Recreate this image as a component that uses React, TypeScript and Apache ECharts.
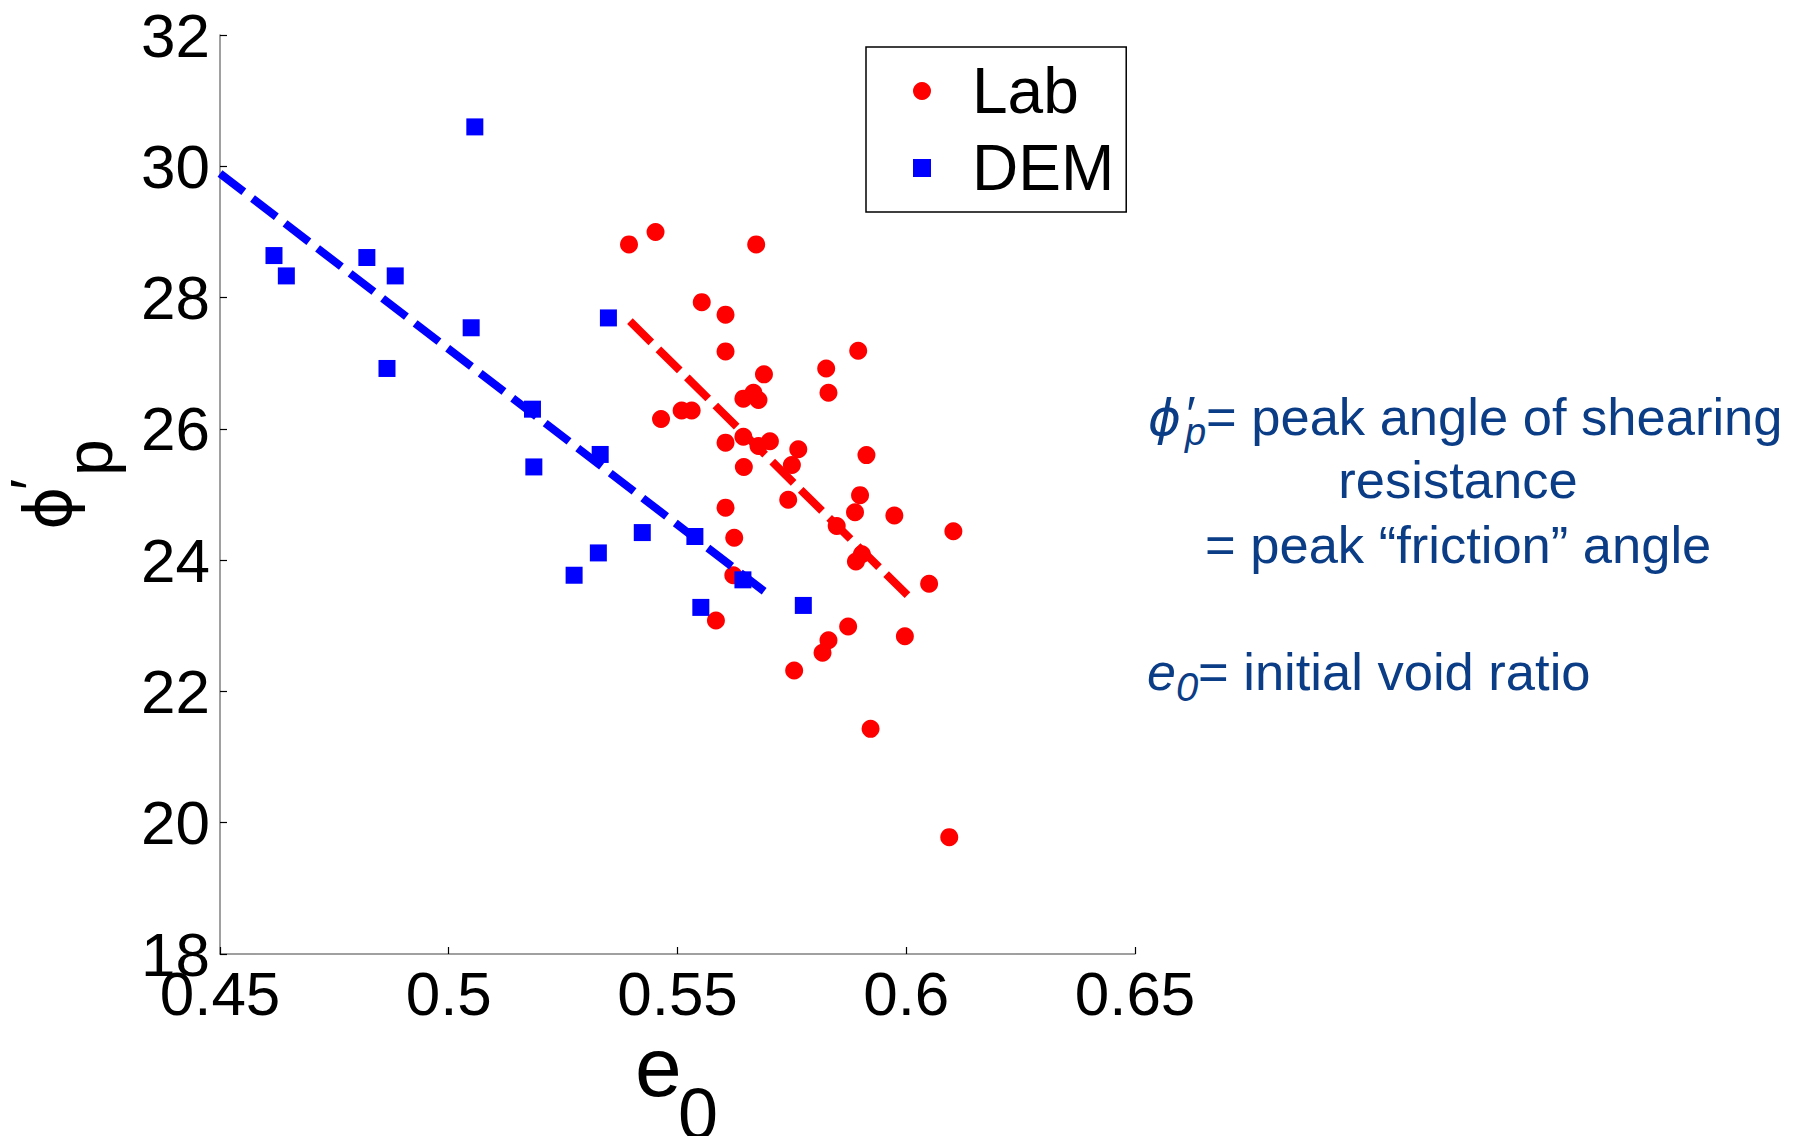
import React, { useEffect, useRef } from "react";
import * as echarts from "echarts";

// ---- data ----
const labE0 = [
  0.5394, 0.5452, 0.5672, 0.5553, 0.5605, 0.5605, 0.5895, 0.5825, 0.583, 0.5689,
  0.5644, 0.5666, 0.5677, 0.5464, 0.5509, 0.5531, 0.5605, 0.5644, 0.5677, 0.5702,
  0.5764, 0.575, 0.5913, 0.5645, 0.5742, 0.5899, 0.5888, 0.5974, 0.5605, 0.5624,
  0.5848, 0.6103, 0.589, 0.5903, 0.605, 0.5622, 0.5584, 0.5873, 0.583, 0.5817,
  0.5755, 0.5997, 0.5922, 0.6094,
];
const labPhi = [
  28.81, 29.0, 28.81, 27.93, 27.74, 27.18, 27.19, 26.92, 26.55, 26.83,
  26.46, 26.55, 26.44, 26.15, 26.28, 26.28, 25.79, 25.88, 25.74, 25.81,
  25.69, 25.45, 25.6, 25.42, 24.92, 24.99, 24.73, 24.68, 24.8, 24.34,
  24.52, 24.44, 23.98, 24.09, 23.64, 23.77, 23.08, 22.99, 22.78, 22.59,
  22.32, 22.84, 21.43, 19.78,
];
const demE0 = [
  0.4618, 0.4645, 0.4821, 0.4883, 0.4865, 0.5057, 0.5049, 0.5349, 0.5183,
  0.5186, 0.5331, 0.5423, 0.5327, 0.5274, 0.5538, 0.5643, 0.5551, 0.5775,
];
const demPhi = [
  28.64, 28.33, 28.61, 28.33, 26.92, 30.6, 27.54, 27.69, 26.3,
  25.42, 25.61, 24.42, 24.11, 23.77, 24.36, 23.7, 23.28, 23.31,
];
const labFitE0 = [0.5396, 0.6005];
const labFitPhi = [27.64, 23.45];
const demFitE0 = [0.45, 0.5698];
const demFitPhi = [29.89, 23.48];

const xMin = 0.45;
const xMax = 0.65;
const xStep = 0.05;
const yMin = 18;
const yMax = 32;
const yStep = 2;

const seriesNames = ["Lab", "DEM"];

const FONT = "'Liberation Sans', Arial, Helvetica, 'DejaVu Sans', sans-serif";
const PHI_FONT = "'DejaVu Sans', 'Liberation Sans', sans-serif";
const NOTE_COLOR = "#0b3d87";

const zip = (a: number[], b: number[]) => a.map((v, i) => [v, b[i]]);

function txt(
  text: string,
  x: number,
  baseline: number,
  size: number,
  opts: { italic?: boolean; color?: string; align?: string; family?: string } = {}
) {
  const align = opts.align || "left";
  return {
    type: "text",
    x,
    y: baseline - 0.35 * size,
    silent: true,
    style: {
      text,
      fontSize: size,
      fontFamily: opts.family || FONT,
      fontStyle: opts.italic ? "italic" : "normal",
      fill: opts.color || "#000",
      align,
      verticalAlign: "middle",
      textAlign: align,
      textVerticalAlign: "middle",
    },
  };
}

function rotTxt(text: string, centerX: number, startY: number, size: number, family?: string) {
  return {
    type: "text",
    x: centerX,
    y: startY,
    rotation: Math.PI / 2,
    silent: true,
    style: {
      text,
      fontSize: size,
      fontFamily: family || FONT,
      fill: "#000",
      align: "left",
      verticalAlign: "middle",
      textAlign: "left",
      textVerticalAlign: "middle",
    },
  };
}

export default function App() {
  const ref = useRef<HTMLDivElement>(null);

  useEffect(() => {
    document.body.style.margin = "0";
    if (!ref.current) return;
    const chart = echarts.init(ref.current, undefined, { renderer: "svg" });
    chart.setOption({
      animation: false,
      backgroundColor: "#ffffff",
      textStyle: { fontFamily: FONT },
      grid: { left: 220, top: 35, right: 667, bottom: 182, containLabel: false },
      xAxis: {
        type: "value",
        min: xMin,
        max: xMax,
        interval: xStep,
        axisLine: { show: true, onZero: false, lineStyle: { color: "#808080", width: 1.5 } },
        axisTick: { show: true, inside: true, length: 7, lineStyle: { color: "#000", width: 1.2 } },
        axisLabel: {
          fontSize: 62,
          color: "#000",
          margin: 8,
          fontFamily: FONT,
          formatter: (v: number) => String(parseFloat(v.toFixed(2))),
        },
        splitLine: { show: false },
      },
      yAxis: {
        type: "value",
        min: yMin,
        max: yMax,
        interval: yStep,
        axisLine: { show: true, onZero: false, lineStyle: { color: "#808080", width: 1.5 } },
        axisTick: { show: true, inside: true, length: 7, lineStyle: { color: "#000", width: 1.2 } },
        axisLabel: { fontSize: 62, color: "#000", margin: 10, fontFamily: FONT },
        splitLine: { show: false },
      },
      legend: {
        data: seriesNames,
        orient: "vertical",
        left: 866,
        top: 47,
        padding: [12, 12, 12, 47],
        itemWidth: 18,
        itemHeight: 18,
        itemGap: 13,
        borderColor: "#000",
        borderWidth: 1.5,
        backgroundColor: "#fff",
        textStyle: { fontSize: 64, color: "#000", fontFamily: FONT, padding: [0, 0, 0, 36] },
      },
      series: [
        {
          name: seriesNames[0],
          type: "scatter",
          symbol: "circle",
          symbolSize: 18,
          itemStyle: { color: "#ff0000", opacity: 1 },
          data: zip(labE0, labPhi),
          z: 2,
        },
        {
          name: "Lab fit",
          type: "line",
          symbol: "none",
          data: zip(labFitE0, labFitPhi),
          lineStyle: { color: "#ff0000", width: 8, type: [30, 10] },
          z: 3,
        },
        {
          name: seriesNames[1],
          type: "scatter",
          symbol: "rect",
          symbolSize: 17,
          itemStyle: { color: "#0000ff", opacity: 1 },
          data: zip(demE0, demPhi),
          z: 4,
        },
        {
          name: "DEM fit",
          type: "line",
          symbol: "none",
          data: zip(demFitE0, demFitPhi),
          lineStyle: { color: "#0000ff", width: 8, type: [30, 11] },
          z: 5,
        },
      ],
      graphic: [
        // x-axis title e_0
        txt("e", 635, 1096, 84),
        txt("0", 678, 1139, 72),
        // y-axis title phi'_p (rotated)
        rotTxt("ϕ", 48, 530, 66, PHI_FONT),
        rotTxt("′", 31, 490, 60),
        rotTxt("p", 89, 476, 66),
        // annotation
        txt("ϕ", 1148, 435, 50, { italic: true, color: NOTE_COLOR, family: PHI_FONT }),
        txt("′", 1184, 432, 50, { italic: true, color: NOTE_COLOR }),
        txt("p", 1185, 445, 38, { italic: true, color: NOTE_COLOR }),
        txt("= peak angle of shearing", 1206, 435, 52.5, { color: NOTE_COLOR }),
        txt("resistance", 1458, 498, 52.5, { color: NOTE_COLOR, align: "center" }),
        txt("= peak “friction” angle", 1205, 563, 52.5, { color: NOTE_COLOR }),
        txt("e", 1147, 690, 52, { italic: true, color: NOTE_COLOR }),
        txt("0", 1176, 701, 40, { italic: true, color: NOTE_COLOR }),
        txt("= initial void ratio", 1198, 690, 52.5, { color: NOTE_COLOR }),
      ],
    });
    return () => chart.dispose();
  }, []);

  return <div ref={ref} style={{ width: 1802, height: 1136 }} />;
}
